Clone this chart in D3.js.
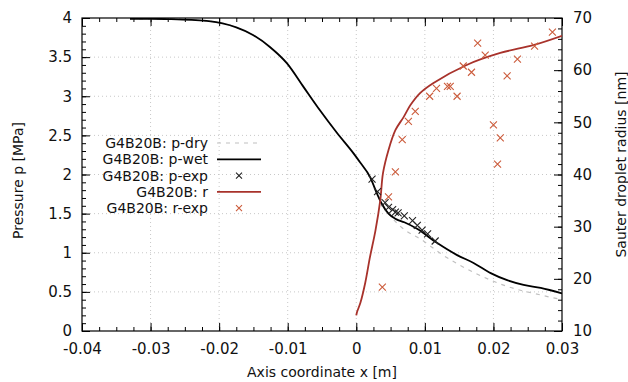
<!DOCTYPE html>
<html>
<head>
<meta charset="utf-8">
<script src="https://cdn.jsdelivr.net/npm/d3@7"></script>
<style>
  body { margin: 0; background: #fff; }
  svg { font-family: "DejaVu Sans", sans-serif; }
</style>
</head>
<body>
<div id="chart"></div>
<script>
// tick values
const xTicks = [-0.04, -0.03, -0.02, -0.01, 0, 0.01, 0.02, 0.03];
const pTicks = [0, 0.5, 1, 1.5, 2, 2.5, 3, 3.5, 4];
const rTicks = [10, 20, 30, 40, 50, 60, 70];

// simulated pressure, wet steam [x m, p MPa]
const pWet = [
  [-0.033, 3.99], [-0.030, 3.99], [-0.027, 3.985], [-0.024, 3.975], [-0.0215, 3.96],
  [-0.0195, 3.93], [-0.0175, 3.88], [-0.0150, 3.78], [-0.0126, 3.63], [-0.0101, 3.42],
  [-0.0077, 3.12], [-0.0053, 2.82], [-0.0028, 2.53], [-0.0004, 2.27], [0.0006, 2.15],
  [0.0020, 1.97], [0.0031, 1.74], [0.0037, 1.63], [0.0047, 1.50], [0.0058, 1.43],
  [0.0070, 1.39], [0.0088, 1.31], [0.0117, 1.13], [0.0147, 0.97], [0.0171, 0.87],
  [0.0196, 0.74], [0.0220, 0.65], [0.0244, 0.59], [0.0269, 0.55], [0.0300, 0.48]
];

// simulated pressure, dry
const pDry = [
  [-0.033, 3.99], [-0.030, 3.99], [-0.027, 3.985], [-0.024, 3.975], [-0.0215, 3.96],
  [-0.0195, 3.93], [-0.0175, 3.88], [-0.0150, 3.78], [-0.0126, 3.63], [-0.0101, 3.42],
  [-0.0077, 3.12], [-0.0053, 2.82], [-0.0028, 2.53], [-0.0004, 2.27], [0.0006, 2.15],
  [0.0020, 1.96], [0.0031, 1.73], [0.0040, 1.59], [0.0050, 1.47], [0.0064, 1.34],
  [0.0098, 1.15], [0.0123, 0.99], [0.0171, 0.75], [0.0220, 0.57], [0.0269, 0.46],
  [0.0300, 0.40]
];

// measured pressure
const pExp = [
  [0.0023, 1.94], [0.0031, 1.78], [0.0042, 1.64], [0.0047, 1.58], [0.0053, 1.55],
  [0.0057, 1.52], [0.0061, 1.51], [0.0070, 1.47], [0.0082, 1.41], [0.0089, 1.35],
  [0.0096, 1.29], [0.0104, 1.24], [0.0115, 1.15]
];

// simulated droplet radius [x m, r nm]
const rSim = [
  [0.0000, 13.0], [0.0001, 13.6], [0.0006, 15.4], [0.0013, 19.2], [0.0020, 24.2],
  [0.0028, 29.3], [0.0035, 35.1], [0.0039, 40.3], [0.0047, 44.7], [0.0057, 48.5],
  [0.0069, 51.0], [0.0079, 53.3], [0.0093, 55.6], [0.0112, 57.5], [0.0161, 61.0],
  [0.0210, 63.3], [0.0258, 64.8], [0.0300, 66.6]
];

// measured droplet radius
const rExp = [
  [0.0038, 18.4], [0.0047, 35.7], [0.0057, 40.5], [0.0067, 46.7], [0.0076, 50.2],
  [0.0086, 52.1], [0.0107, 55.0], [0.0117, 56.5], [0.0133, 56.9], [0.0137, 56.9],
  [0.0147, 55.0], [0.0156, 60.8], [0.0168, 59.6], [0.0177, 65.2], [0.0188, 62.9],
  [0.0200, 49.5], [0.0206, 42.0], [0.0210, 47.0], [0.0220, 58.9], [0.0235, 62.1],
  [0.0260, 64.6], [0.0286, 67.3]
];

const legendNames = ["G4B20B: p-dry", "G4B20B: p-wet", "G4B20B: p-exp", "G4B20B: r", "G4B20B: r-exp"];

const W = 628, H = 382;
const margin = {top: 18, right: 66, bottom: 51, left: 82};
const width = W - margin.left - margin.right;
const height = H - margin.top - margin.bottom;

const red = "#a8322b";
const redMark = "#cc5c3c";

const svg = d3.select("#chart").append("svg")
  .attr("width", W).attr("height", H);

const g = svg.append("g").attr("transform", `translate(${margin.left},${margin.top})`);

const x = d3.scaleLinear().domain([-0.04, 0.03]).range([0, width]);
const yP = d3.scaleLinear().domain([0, 4]).range([height, 0]);
const yR = d3.scaleLinear().domain([10, 70]).range([height, 0]);

// grid
const grid = g.append("g").attr("stroke", "#c8c8c8").attr("stroke-dasharray", "1,3").attr("stroke-width", 1);
grid.selectAll("line.v").data(xTicks.slice(1, -1)).join("line")
  .attr("x1", d => x(d)).attr("x2", d => x(d)).attr("y1", 0).attr("y2", height);
grid.selectAll("line.h").data(pTicks.slice(1, -1)).join("line")
  .attr("x1", 0).attr("x2", width).attr("y1", d => yP(d)).attr("y2", d => yP(d));

// minor ticks
const xMinor = d3.range(-0.04, 0.03001, 0.0025);
const pMinor = d3.range(0, 4.001, 0.1);
const rMinor = d3.range(10, 70.01, 2);

function styleAxis(sel) {
  sel.select(".domain").remove();
  sel.selectAll("line").attr("stroke", "#000");
  sel.selectAll("text").attr("fill", "#111").style("font-size", "15px")
    .style("font-family", "'DejaVu Sans', sans-serif");
}

g.append("g").attr("transform", `translate(0,${height})`)
  .call(d3.axisBottom(x).tickValues(xMinor).tickSize(-4).tickFormat("")).call(styleAxis);
g.append("g")
  .call(d3.axisTop(x).tickValues(xMinor).tickSize(-4).tickFormat("")).call(styleAxis);
g.append("g")
  .call(d3.axisLeft(yP).tickValues(pMinor).tickSize(-4).tickFormat("")).call(styleAxis);
g.append("g").attr("transform", `translate(${width},0)`)
  .call(d3.axisRight(yR).tickValues(rMinor).tickSize(-4).tickFormat("")).call(styleAxis);

// major axes
g.append("g").attr("transform", `translate(0,${height})`)
  .call(d3.axisBottom(x).tickValues(xTicks).tickSize(-8).tickPadding(12)
    .tickFormat(d => d === 0 ? "0" : d.toFixed(2)))
  .call(styleAxis);
g.append("g")
  .call(d3.axisTop(x).tickValues(xTicks).tickSize(-8).tickFormat("")).call(styleAxis);
g.append("g")
  .call(d3.axisLeft(yP).tickValues(pTicks).tickSize(-8).tickPadding(10).tickFormat(d3.format("")))
  .call(styleAxis);
g.append("g").attr("transform", `translate(${width},0)`)
  .call(d3.axisRight(yR).tickValues(rTicks).tickSize(-8).tickPadding(11).tickFormat(d3.format("")))
  .call(styleAxis);

// frame
g.append("rect").attr("width", width).attr("height", height)
  .attr("fill", "none").attr("stroke", "#000").attr("stroke-width", 1.2);

// clip
g.append("clipPath").attr("id", "clip").append("rect").attr("width", width).attr("height", height);
const plot = g.append("g").attr("clip-path", "url(#clip)");

const lineP = d3.line().x(d => x(d[0])).y(d => yP(d[1])).curve(d3.curveMonotoneX);
const lineR = d3.line().x(d => x(d[0])).y(d => yR(d[1])).curve(d3.curveCatmullRom);

plot.append("path").datum(pDry).attr("d", lineP)
  .attr("fill", "none").attr("stroke", "#c0c0c0").attr("stroke-width", 1.2).attr("stroke-dasharray", "4,5");
plot.append("path").datum(pWet).attr("d", lineP)
  .attr("fill", "none").attr("stroke", "#000").attr("stroke-width", 1.8);
plot.append("path").datum(rSim).attr("d", lineR)
  .attr("fill", "none").attr("stroke", red).attr("stroke-width", 1.8);

function cross(sel, color, s) {
  sel.append("path")
    .attr("d", `M${-s},${-s}L${s},${s}M${-s},${s}L${s},${-s}`)
    .attr("stroke", color).attr("stroke-width", 1.1).attr("fill", "none");
}

plot.selectAll("g.pexp").data(pExp).join("g")
  .attr("transform", d => `translate(${x(d[0])},${yP(d[1])})`)
  .call(cross, "#222", 3.5);
plot.selectAll("g.rexp").data(rExp).join("g")
  .attr("transform", d => `translate(${x(d[0])},${yR(d[1])})`)
  .call(cross, redMark, 3.5);

// legend
const legend = svg.append("g").attr("transform", "translate(208,143)");
const rowH = 16.3;
legendNames.forEach((name, i) => {
  const row = legend.append("g").attr("transform", `translate(0,${i * rowH})`);
  row.append("text").attr("text-anchor", "end").attr("dy", "0.35em")
    .style("font-size", "14px").attr("fill", "#111").text(name);
  if (i === 0) {
    row.append("line").attr("x1", 9).attr("x2", 53).attr("stroke", "#c0c0c0")
      .attr("stroke-dasharray", "4,5").attr("stroke-width", 1.2);
  } else if (i === 1) {
    row.append("line").attr("x1", 9).attr("x2", 53).attr("stroke", "#000").attr("stroke-width", 1.8);
  } else if (i === 3) {
    row.append("line").attr("x1", 9).attr("x2", 53).attr("stroke", red).attr("stroke-width", 1.8);
  } else {
    row.append("g").attr("transform", "translate(31,0)")
      .call(cross, i === 2 ? "#222" : redMark, 3);
  }
});

// axis titles
svg.append("text").attr("x", margin.left + width / 2).attr("y", 377)
  .attr("text-anchor", "middle").style("font-size", "14px").attr("fill", "#111")
  .text("Axis coordinate x [m]");
svg.append("text").attr("transform", `translate(23,${margin.top + height / 2 + 6}) rotate(-90)`)
  .attr("text-anchor", "middle").style("font-size", "14px").attr("fill", "#111")
  .text("Pressure p [MPa]");
svg.append("text").attr("transform", `translate(626,${margin.top + height / 2 - 10}) rotate(-90)`)
  .attr("text-anchor", "middle").style("font-size", "14px").attr("fill", "#111")
  .text("Sauter droplet radius [nm]");
</script>
</body>
</html>
